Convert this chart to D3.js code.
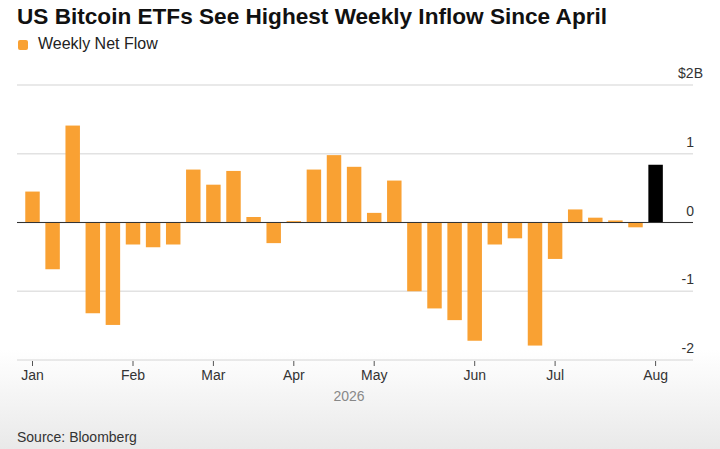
<!DOCTYPE html>
<html>
<head>
<meta charset="utf-8">
<script src="https://cdn.jsdelivr.net/npm/d3@7"></script>
<style>
  body { margin: 0; background: #fff; }
  text { font-family: "Liberation Sans", Arial, sans-serif; }
</style>
</head>
<body>
<div id="chart"></div>
<script>
// weekly data (Friday of each week), $ billions
var weeks = ["2026-01-02", "2026-01-09", "2026-01-16", "2026-01-23", "2026-01-30",
    "2026-02-06", "2026-02-13", "2026-02-20", "2026-02-27",
    "2026-03-06", "2026-03-13", "2026-03-20", "2026-03-27",
    "2026-04-03", "2026-04-10", "2026-04-17", "2026-04-24",
    "2026-05-01", "2026-05-08", "2026-05-15", "2026-05-22", "2026-05-29",
    "2026-06-05", "2026-06-12", "2026-06-19", "2026-06-26",
    "2026-07-03", "2026-07-10", "2026-07-17", "2026-07-24", "2026-07-31",
    "2026-08-07"];
var flows = [0.45, -0.68, 1.41, -1.32, -1.49,
    -0.32, -0.36, -0.32, 0.77,
    0.55, 0.75, 0.08, -0.30,
    0.02, 0.77, 0.98, 0.81,
    0.14, 0.61, -1.00, -1.25, -1.42,
    -1.72, -0.32, -0.23, -1.79,
    -0.53, 0.19, 0.07, 0.03, -0.07,
    0.84];
var latestWeek = "2026-08-07";

var tickWeeks = ["2026-01-02", "2026-02-06", "2026-03-06", "2026-04-03",
    "2026-05-01", "2026-06-05", "2026-07-03", "2026-08-07"];
var tickLabels = ["Jan", "Feb", "Mar", "Apr", "May", "Jun", "Jul", "Aug"];
var yTicks = [2, 1, 0, -1, -2];

var width = 720, height = 449;

var svg = d3.select("#chart")
    .append("svg")
    .attr("width", width)
    .attr("height", height);

// soft grey fade at the bottom of the card
var grad = svg.append("defs").append("linearGradient")
    .attr("id", "bg").attr("x1", 0).attr("y1", 0).attr("x2", 0).attr("y2", 1);
grad.append("stop").attr("offset", "0.78").attr("stop-color", "#ffffff");
grad.append("stop").attr("offset", "1").attr("stop-color", "#e9e9e9");
svg.append("rect").attr("width", width).attr("height", height).attr("fill", "url(#bg)");

// title + legend
svg.append("text")
    .attr("x", 17).attr("y", 24)
    .style("font-size", "22.6px").style("font-weight", "bold")
    .attr("fill", "#111")
    .text("US Bitcoin ETFs See Highest Weekly Inflow Since April");

svg.append("rect")
    .attr("x", 18).attr("y", 40).attr("width", 10).attr("height", 10)
    .attr("rx", 2).attr("fill", "#f9a133");
svg.append("text")
    .attr("x", 38).attr("y", 49)
    .style("font-size", "16px").attr("fill", "#222")
    .text("Weekly Net Flow");

// scales
var x = d3.scaleBand()
    .domain(weeks)
    .range([22.45, 665.65])
    .paddingInner(0.28)
    .paddingOuter(0.14);

var y = d3.scaleLinear()
    .domain([-2, 2])
    .range([360, 85]);

// gridlines
svg.selectAll("line.grid")
    .data(yTicks)
    .enter()
    .append("line")
    .attr("class", "grid")
    .attr("x1", 17).attr("x2", 693)
    .attr("y1", function (d) { return y(d); })
    .attr("y2", function (d) { return y(d); })
    .attr("stroke", "#e2e2e2")
    .attr("stroke-width", 1.5);

// y labels on the right, above each gridline
svg.selectAll("text.ylab")
    .data(yTicks)
    .enter()
    .append("text")
    .attr("class", "ylab")
    .attr("x", function (d) { return d === 2 ? 703 : 694; })
    .attr("y", function (d) { return y(d) - 7; })
    .attr("text-anchor", "end")
    .style("font-size", "14px")
    .attr("fill", "#333")
    .text(function (d) { return d === 2 ? "$2B" : d; });

// bars
svg.selectAll("rect.bar")
    .data(weeks)
    .enter()
    .append("rect")
    .attr("class", "bar")
    .attr("x", function (d) { return x(d); })
    .attr("width", x.bandwidth())
    .attr("y", function (d, i) { return y(Math.max(0, flows[i])); })
    .attr("height", function (d, i) { return Math.abs(y(flows[i]) - y(0)); })
    .attr("fill", function (d) { return d === latestWeek ? "#000" : "#f9a133"; });

// zero line
svg.append("line")
    .attr("x1", 17).attr("x2", 693)
    .attr("y1", y(0)).attr("y2", y(0))
    .attr("stroke", "#333").attr("stroke-width", 1);

// x axis: month ticks at first week of each month
var xAxis = svg.append("g")
    .attr("transform", "translate(0," + y(-2) + ")")
    .call(d3.axisBottom(x)
        .tickValues(tickWeeks)
        .tickSize(6)
        .tickPadding(4)
        .tickFormat(function (d) { return tickLabels[tickWeeks.indexOf(d)]; }));
xAxis.select(".domain").remove();
xAxis.selectAll(".tick line").attr("stroke", "#555").attr("y1", 1);
xAxis.selectAll(".tick text")
    .style("font-size", "14px")
    .style("font-family", "'Liberation Sans', Arial, sans-serif")
    .attr("fill", "#333");

svg.append("text")
    .attr("x", 349).attr("y", 401)
    .attr("text-anchor", "middle")
    .style("font-size", "14px").attr("fill", "#888")
    .text("2026");

svg.append("text")
    .attr("x", 17).attr("y", 442)
    .style("font-size", "14px").attr("fill", "#333")
    .text("Source: Bloomberg");
</script>
</body>
</html>
